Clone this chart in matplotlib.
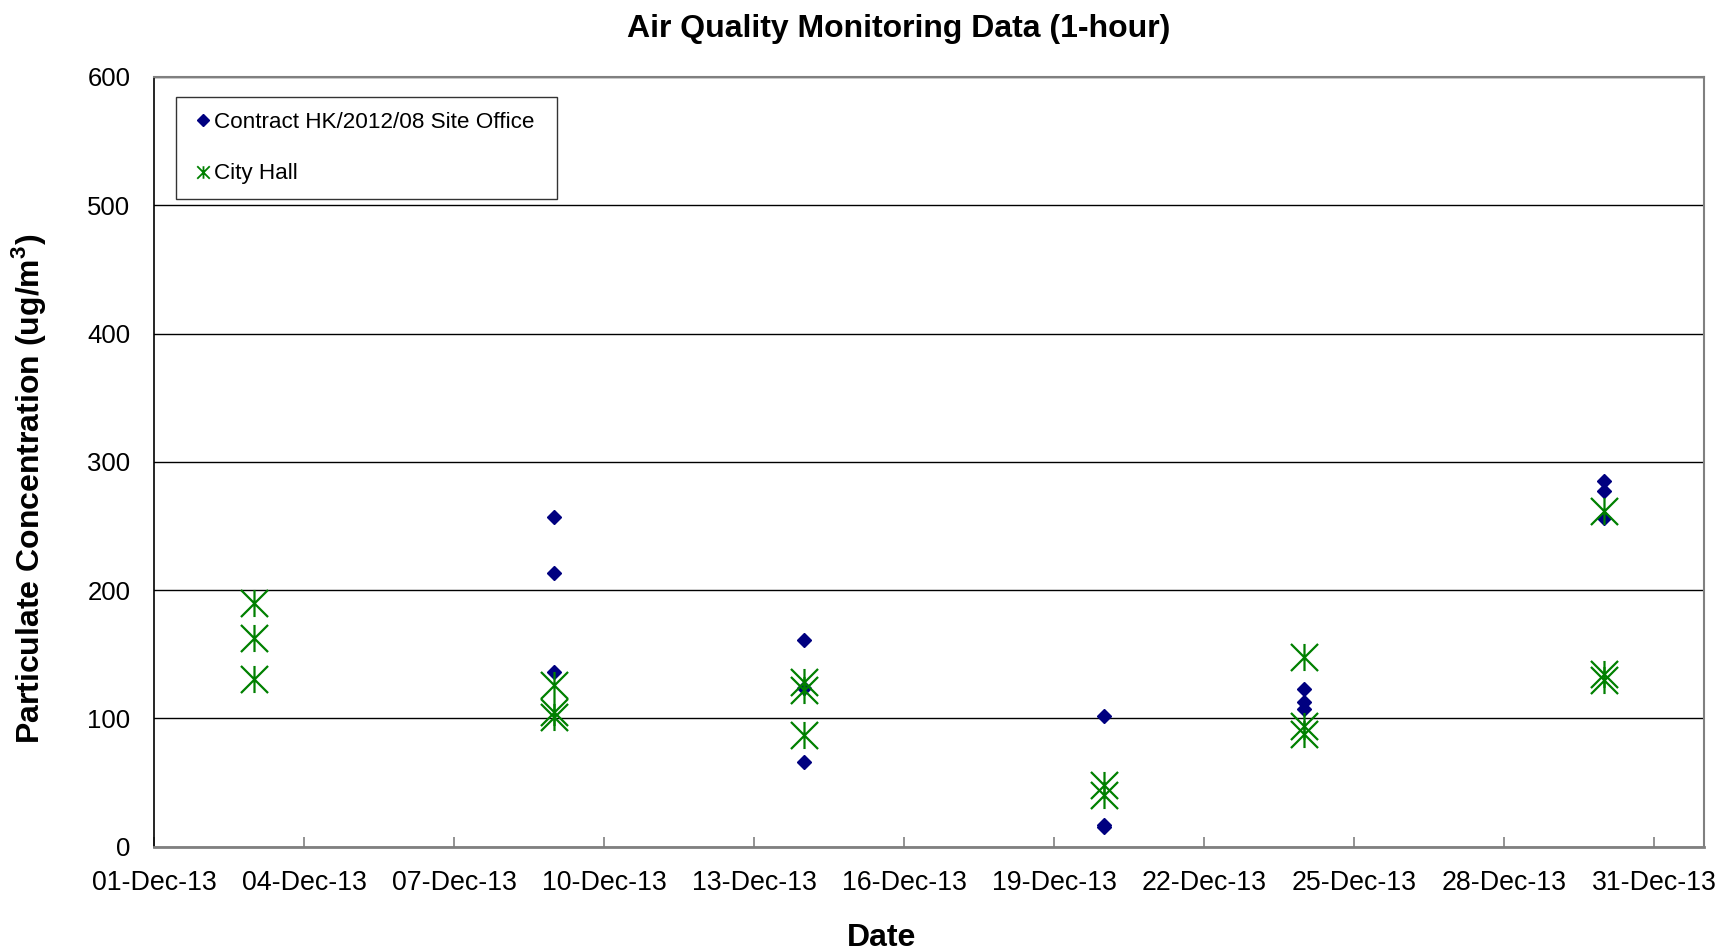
import pandas as pd
import matplotlib
matplotlib.use("Agg")
import matplotlib.pyplot as plt
import matplotlib.dates as mdates
from matplotlib.path import Path
from matplotlib.lines import Line2D

# ------------------------------------------------------------
# DATA
# ------------------------------------------------------------
site_dates = (["2013-12-09"] * 3 + ["2013-12-14"] * 3 + ["2013-12-20"] * 3
              + ["2013-12-24"] * 3 + ["2013-12-30"] * 3)
site_values = [257, 213, 136, 161, 124, 66, 102, 17, 15, 123, 113, 107, 285, 277, 256]

city_dates = (["2013-12-03"] * 3 + ["2013-12-09"] * 3 + ["2013-12-14"] * 3
              + ["2013-12-20"] * 2 + ["2013-12-24"] * 3 + ["2013-12-30"] * 3)
city_values = [190, 163, 131, 126, 105, 101, 128, 122, 87, 48, 40, 148, 94, 88, 262, 135, 130]

tick_dates = pd.date_range("2013-12-01", "2013-12-31", freq="3D")
y_ticks = [0, 100, 200, 300, 400, 500, 600]

SITE_LABEL = "Contract HK/2012/08 Site Office"
CITY_LABEL = "City Hall"

# ------------------------------------------------------------
# STYLE
# ------------------------------------------------------------
plt.rcParams["font.family"] = ["Liberation Sans", "DejaVu Sans"]
plt.rcParams["mathtext.fontset"] = "custom"
plt.rcParams["mathtext.rm"] = "Liberation Sans"
plt.rcParams["mathtext.bf"] = "Liberation Sans:bold"

NAVY = "#000080"
GREEN = "#008000"
GRAY = "#808080"

# Excel-like star: X with a vertical bar
star = Path([(-1, -1), (1, 1), (-1, 1), (1, -1), (0, -1), (0, 1)],
            [Path.MOVETO, Path.LINETO] * 3)

fig = plt.figure(figsize=(17.22, 9.52), dpi=100, facecolor="white")
ax = fig.add_axes([0.0894, 0.1106, 0.9004, 0.8086])

ax.plot(pd.to_datetime(site_dates), site_values, linestyle="none",
        marker="D", markersize=7.5, color=NAVY, zorder=3)
ax.plot(pd.to_datetime(city_dates), city_values, linestyle="none",
        marker=star, markersize=19.5, markeredgewidth=1.6,
        markerfacecolor="none", markeredgecolor=GREEN, zorder=4)

ax.set_xlim(pd.Timestamp("2013-12-01"), pd.Timestamp("2014-01-01"))
ax.set_ylim(0, 600)
ax.set_xticks(tick_dates)
ax.xaxis.set_major_formatter(mdates.DateFormatter("%d-%b-%y"))
ax.set_yticks(y_ticks)

ax.tick_params(axis="x", direction="in", length=7, width=1.2, color=GRAY,
               labelsize=19.3, pad=17)
ax.tick_params(axis="y", length=0, labelsize=18.5, pad=17)

ax.grid(axis="y", color="black", linewidth=1)
ax.set_axisbelow(True)

for side in ["top", "right"]:
    ax.spines[side].set_color(GRAY)
    ax.spines[side].set_linewidth(1.5)
ax.spines["bottom"].set_color(GRAY)
ax.spines["bottom"].set_linewidth(2)
ax.spines["left"].set_color("black")
ax.spines["left"].set_linewidth(1.2)

ax.set_title("Air Quality Monitoring Data (1-hour)", fontsize=23,
             fontweight="bold", pad=28.5, x=0.4804)
ax.set_xlabel("Date", fontsize=23, fontweight="bold", labelpad=19)
ax.set_ylabel(r"Particulate Concentration (ug/m$^{\mathbf{3}}$)", fontsize=23,
              fontweight="bold", labelpad=28)
ax.xaxis.label.set_x(0.4696)
ax.yaxis.label.set_y(0.4647)

handles = [
    Line2D([], [], linestyle="none", marker="D", markersize=6, color=NAVY),
    Line2D([], [], linestyle="none", marker=star, markersize=9,
           markeredgewidth=1.3, markerfacecolor="none", markeredgecolor=GREEN),
]
leg = ax.legend(handles, [SITE_LABEL, CITY_LABEL], loc="upper left",
                bbox_to_anchor=(0.014, 0.874, 0.2458, 0.1), mode="expand",
                borderaxespad=0, fontsize=16.2, frameon=True, fancybox=False,
                handlelength=1.13, handletextpad=-0.08, labelspacing=1.35,
                borderpad=0.67)
leg.get_frame().set_edgecolor("black")
leg.get_frame().set_linewidth(1)

plt.savefig("out.png", dpi=100, facecolor="white")
